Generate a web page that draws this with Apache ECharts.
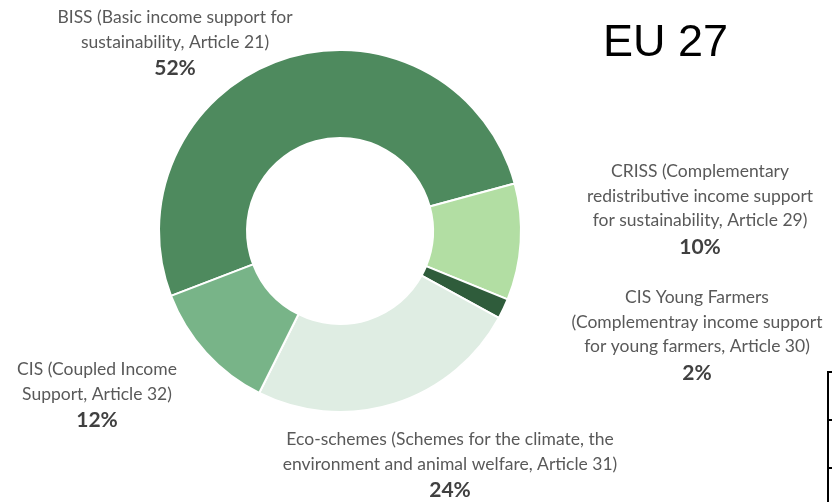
<!DOCTYPE html>
<html>
<head>
<meta charset="utf-8">
<script src="https://cdn.jsdelivr.net/npm/echarts@6/dist/echarts.min.js"></script>
<style>
html,body{margin:0;padding:0;background:#fff;}
#c{width:832px;height:502px;}
</style>
</head>
<body>
<div id="c"></div>
<script>
// Data
const categories = [
  'BISS (Basic income support for\nsustainability, Article 21)',
  'CRISS (Complementary\nredistributive income support\nfor sustainability, Article 29)',
  'CIS Young Farmers\n(Complementray income support\nfor young farmers, Article 30)',
  'Eco-schemes (Schemes for the climate, the\nenvironment and animal welfare, Article 31)',
  'CIS (Coupled Income\nSupport, Article 32)'
];
const shares = [51.6, 10.4, 1.8, 24.4, 11.8];
const colors = ['#4E8A5E', '#B2DEA3', '#2F5C3B', '#DFEDE3', '#78B488'];
const title = 'EU 27';

// label anchor positions (layout, not data)
const labelPos = [
  [175, 44],
  [700, 210],
  [697, 336],
  [450, 466],
  [97, 396]
];

function indexOfLabel(text) {
  for (let i = 0; i < categories.length; i++) {
    const first = categories[i].split('\n')[0];
    if (text && text.indexOf(first) >= 0 && (i !== 4 || text.indexOf('Coupled') >= 0)) return i;
  }
  return 0;
}

const chart = echarts.init(document.getElementById('c'), null, {renderer: 'canvas'});
chart.setOption({
  animation: false,
  backgroundColor: '#fff',
  graphic: [
    {type: 'text', left: 603, top: 21, style: {text: title, font: '45px "Liberation Sans", Arial, sans-serif', fill: '#000'}},
    {type: 'line', shape: {x1: 828, y1: 372, x2: 828, y2: 502}, style: {stroke: '#000', lineWidth: 2}},
    {type: 'line', shape: {x1: 827, y1: 372, x2: 832, y2: 372}, style: {stroke: '#000', lineWidth: 2}},
    {type: 'line', shape: {x1: 827, y1: 420, x2: 832, y2: 420}, style: {stroke: '#000', lineWidth: 2}},
    {type: 'line', shape: {x1: 827, y1: 468, x2: 832, y2: 468}, style: {stroke: '#000', lineWidth: 2}}
  ],
  series: [{
    type: 'pie',
    center: [340, 231],
    radius: [93, 181],
    startAngle: 201,
    clockwise: true,
    avoidLabelOverlap: false,
    itemStyle: {borderColor: '#fff', borderWidth: 2},
    emphasis: {disabled: true},
    labelLine: {show: false},
    label: {
      show: true,
      position: 'outside',
      formatter: function (p) {
        return '{n|' + p.name.split('\n').join('}\n{n|') + '}\n{p|' + Math.round(p.value) + '%}';
      },
      rich: {
        n: {fontFamily: 'Lato, "Open Sans", sans-serif', fontSize: 17.5, color: '#595959', lineHeight: 24.5, align: 'center'},
        p: {fontFamily: 'Lato, "Open Sans", sans-serif', fontSize: 21, fontWeight: 'bold', color: '#404040', lineHeight: 28, align: 'center'}
      }
    },
    labelLayout: function (params) {
      const pos = labelPos[indexOfLabel(params.text)];
      return {x: pos[0], y: pos[1], align: 'center', verticalAlign: 'middle', hideOverlap: false};
    },
    data: categories.map(function (c, i) {
      return {name: c, value: shares[i], itemStyle: {color: colors[i]}};
    })
  }]
});
</script>
</body>
</html>
